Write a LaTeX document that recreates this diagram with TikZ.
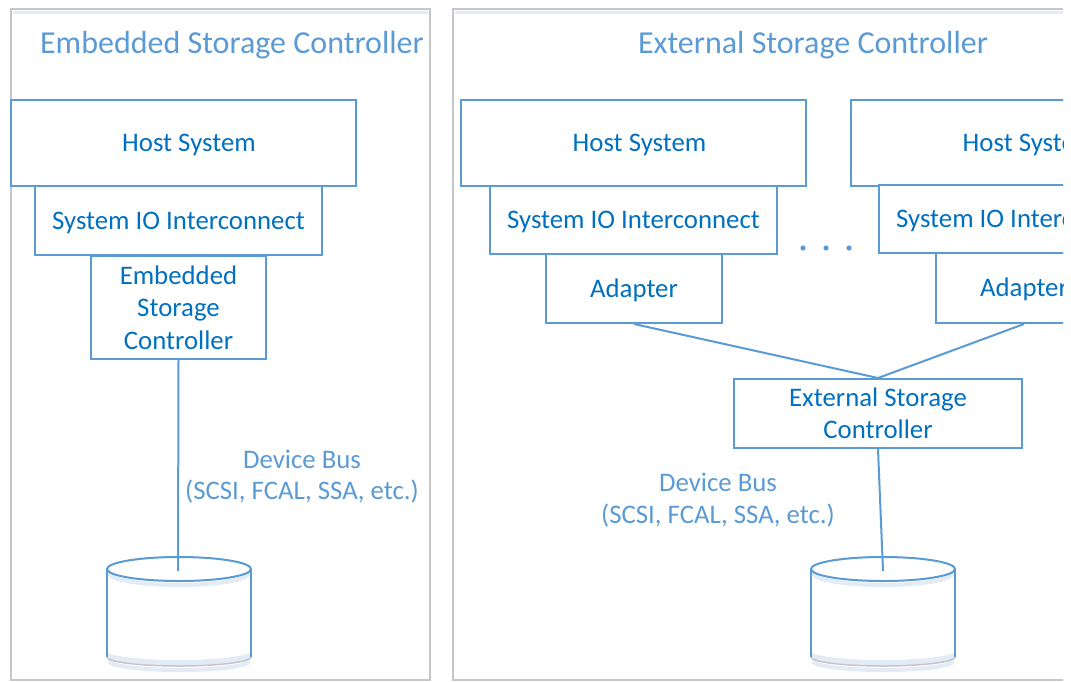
\documentclass[tikz,border=0pt]{standalone}
\usepackage{fontspec}
\setmainfont{Carlito}
\definecolor{boxc}{HTML}{5B9BD5}
\definecolor{txtc}{HTML}{0070C0}
\definecolor{lblc}{HTML}{5B9BD5}
\definecolor{panc}{HTML}{C6C6C6}
\definecolor{shadc}{HTML}{E2EBF6}
\tikzset{
  box/.style={draw=boxc, fill=white, line width=2pt, text=txtc,
    font=\fontsize{26.8}{32.5}\selectfont, inner sep=0pt, align=center},
  oneline/.style={text height=17.3pt, text depth=0pt},
  titletext/.style={text=lblc, font=\fontsize{32}{38}\selectfont, inner sep=0pt, anchor=base},
  buslabel/.style={text=lblc, font=\fontsize{26.8}{31.5}\selectfont, inner sep=0pt, align=center},
  wire/.style={draw=boxc, line width=2pt},
  panel/.style={draw=panc, line width=1.8pt},
  dotmark/.style={fill=boxc},
  pics/disk/.style={code={
    \fill[white] (-72,0) -- (-72,88) arc[start angle=180,end angle=0,x radius=72,y radius=9] -- (72,0) -- cycle;
    \fill[shadc] (-72,82) -- (-72,88) arc[start angle=180,end angle=0,x radius=72,y radius=9]
       -- (72,82) arc[start angle=0,end angle=180,x radius=72,y radius=9] -- cycle;
    \draw[shadc, line width=4pt] (-70,92) arc[start angle=180,end angle=0,x radius=70,y radius=9];
    \draw[panc, line width=1.5pt] (-72,88) arc[start angle=180,end angle=0,x radius=72,y radius=9];
    \fill[white] (0,0) ellipse[x radius=72, y radius=12];
    \draw[shadc, line width=4pt] (-70,4) arc[start angle=180,end angle=0,x radius=70,y radius=12];
    \draw[boxc, line width=2pt] (-72,0) -- (-72,88) (72,0) -- (72,88);
    \draw[boxc, line width=2pt] (0,0) ellipse[x radius=72, y radius=12];
  }}
}
\begin{document}
\begin{tikzpicture}[x=1pt,y=-1pt]
\useasboundingbox (0,0) rectangle (1071,681);
\fill[white] (0,0) rectangle (1071,681);
\begin{scope}
\clip (0,0) rectangle (1063,681);
% panels
\draw[shadc, line width=3pt] (13,12.5) -- (428,12.5);
\draw[shadc, line width=3pt] (455,12.5) -- (1063,12.5);
\draw[panel] (11,680) -- (11,9) -- (430,9) -- (430,680) -- cycle;
\draw[panel] (1070,9) -- (453,9) -- (453,680) -- (1070,680);
% titles
\node[titletext] (ltitle) at (232,53) {Embedded Storage Controller};
\node[titletext] (rtitle) at (813,53) {External Storage Controller};
% left side
\node[box, oneline, minimum width=345pt, minimum height=86pt] (lhost) at (183.5,143) {\hspace*{11pt}Host System};
\node[box, oneline, minimum width=287pt, minimum height=69pt] (lsio) at (178.5,220.5) {System IO Interconnect};
\node[box, minimum width=175pt, minimum height=103pt] (lesc) at (178.5,307.5) {Embedded\\Storage\\Controller};
\pic at (179,569) {disk};
\coordinate (ldisk) at (178,571);
\draw[wire] (lesc.south) -- (ldisk);
\node[buslabel] (lbus) at (302,476.5) {Device Bus\\(SCSI, FCAL, SSA, etc.)};
% right side
\node[box, oneline, minimum width=345pt, minimum height=86pt] (rhost1) at (633.5,143) {\hspace*{12pt}Host System};
\node[box, oneline, minimum width=287pt, minimum height=68pt] (rsio1) at (633.5,220) {System IO Interconnect};
\node[box, oneline, minimum width=176pt, minimum height=69pt] (rad1) at (634,288.5) {Adapter};
\node[box, oneline, minimum width=345pt, minimum height=86pt] (rhost2) at (1023.5,143) {\hspace*{12pt}Host System};
\node[box, oneline, minimum width=287pt, minimum height=68pt] (rsio2) at (1022.5,219) {System IO Interconnect};
\node[box, oneline, minimum width=176pt, minimum height=70pt] (rad2) at (1024,288) {Adapter};
\fill[dotmark] (803,248) circle[radius=2.6];
\fill[dotmark] (826,248) circle[radius=2.6];
\fill[dotmark] (849,248) circle[radius=2.6];
\node[box, minimum width=288pt, minimum height=69pt] (resc) at (878,413.5) {External Storage\\Controller};
\draw[wire] (rad1.south) -- (resc.north);
\draw[wire] (rad2.south) -- (resc.north);
\pic at (883,569) {disk};
\coordinate (rdisk) at (883,571);
\draw[wire] (resc.south) -- (rdisk);
\node[buslabel] (rbus) at (718,500) {Device Bus\\(SCSI, FCAL, SSA, etc.)};
\end{scope}
\end{tikzpicture}
\end{document}
